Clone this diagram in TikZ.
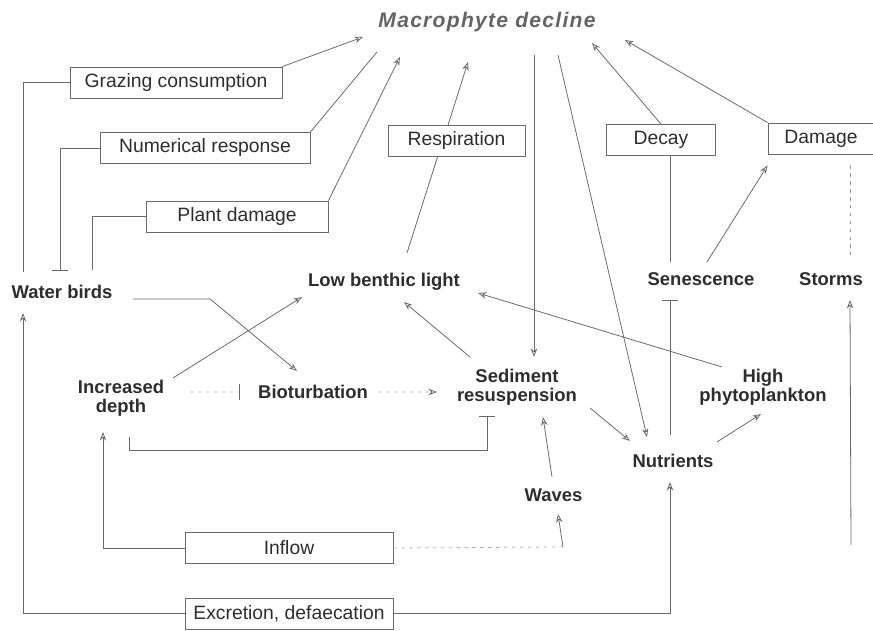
\documentclass[tikz,border=0pt]{standalone}
\usepackage{fontspec}
\setmainfont{Liberation Sans}
\usetikzlibrary{arrows.meta}
\definecolor{inkgrey}{RGB}{45,45,45}
\definecolor{linegrey}{RGB}{105,105,105}
\definecolor{titlegrey}{RGB}{100,100,100}

\begin{document}
\begin{tikzpicture}[
    x=0.02cm,
    y=-0.02cm,
    factor/.style={
        draw=linegrey,
        line width=0.5pt,
        minimum height=0.62cm,
        inner sep=2pt,
        text=inkgrey,
        font=\fontsize{11}{13}\selectfont
    },
    driver/.style={
        inner sep=0pt,
        align=center,
        text=inkgrey,
        font=\fontsize{10.5}{11}\selectfont\bfseries
    },
    wire/.style={draw=linegrey, line width=0.45pt},
    edge/.style={wire, -{Stealth[open, length=1.7mm, width=1.3mm]}},
    inhibit/.style={wire, -{Bar[width=3.2mm, line width=0.8pt]}},
    faint/.style={draw=black!30, line width=0.45pt, dash pattern=on 2pt off 2.5pt}
]
\useasboundingbox (0,0) rectangle (873,631);

% === Response ===
\node[inner sep=0pt, text=titlegrey,
      font=\fontsize{12}{14}\selectfont\bfseries\itshape\addfontfeatures{LetterSpace=6}]
      (decline) at (487,22) {Macrophyte decline};

% === Mechanisms (boxed) ===
\node[factor, minimum width=4.24cm] (graze) at (176,82.5) {Grazing consumption};
\node[factor, minimum width=4.2cm] (numer) at (205,148) {Numerical response};
\node[factor, minimum width=3.64cm] (plant) at (237,216.5) {Plant damage};
\node[factor, minimum width=2.74cm] (resp) at (456.5,141) {Respiration};
\node[factor, minimum width=2.18cm] (decay) at (661,140) {Decay};
\node[factor, minimum width=2.12cm] (damage) at (821,138.5) {Damage};
\node[factor, minimum width=4.16cm] (inflow) at (289,548) {Inflow};
\node[factor, minimum width=4.16cm] (excr) at (289,613.5) {Excretion, defaecation};

% === Drivers ===
\node[driver] (birds) at (62,291.5) {Water birds};
\node[driver] (light) at (384,282) {Low benthic light};
\node[driver] (senes) at (701,279) {Senescence};
\node[driver] (storms) at (831,279) {Storms};
\node[driver] (incr) at (121,398) {Increased\\depth};
\node[driver] (bio) at (313,391.5) {Bioturbation};
\node[driver] (sed) at (517,387) {Sediment\\resuspension};
\node[driver] (phyto) at (763,387) {High\\phytoplankton};
\node[driver] (nutri) at (673,460.5) {Nutrients};
\node[driver] (waves) at (553.5,495) {Waves};

\coordinate (wavesrc) at (563,547);
\coordinate (stormsrc) at (851,545);

% === Water birds ===
\draw[wire] ([shift={(-39,-19.5)}]birds.center) |- (graze.west);
\draw[edge] (graze.north east) -- ([shift={(-124,15)}]decline.center);
\draw[inhibit] (numer.west) -| ([shift={(-2,-20.5)}]birds.center);
\draw[wire] (numer.north east) -- ([shift={(-110,30)}]decline.center);
\draw[wire] ([shift={(30,-21.5)}]birds.center) |- (plant.west);
\draw[edge] (plant.north east) -- ([shift={(-87,35)}]decline.center);
\draw[edge] (excr.west) -| ([shift={(-39,21.5)}]birds.center);
\draw[edge] ([shift={(71,7.5)}]birds.center) -- ++(77,0) -- ([shift={(-16,-20.5)}]bio.center);

% === Light ===
\draw[wire] ([shift={(23,-29)}]light.center) -- ([shift={(-19,0)}]resp.south);
\draw[edge] ([shift={(-8.5,0)}]resp.north) -- ([shift={(-19,40)}]decline.center);
\draw[edge] ([shift={(52,-20)}]incr.center) -- ([shift={(-82,15)}]light.center);
\draw[edge] ([shift={(-47,-30)}]sed.center) -- ([shift={(20,20)}]light.center);
\draw[edge] ([shift={(-41,-20)}]phyto.center) -- ([shift={(94,11)}]light.center);

% === Sediment ===
\draw[faint, -{Bar[width=3.2mm, color=linegrey]}] ([shift={(69,-6)}]incr.center) -- ([shift={(-73,0.5)}]bio.center);
\draw[faint, -{Stealth[open, length=1.7mm, width=1.3mm, color=linegrey]}] ([shift={(65,0.5)}]bio.center) -- ([shift={(-80,5)}]sed.center);
\draw[inhibit] ([shift={(8,39)}]incr.center) -- ++(0,13) -| ([shift={(-30,29)}]sed.center);
\draw[edge] ([shift={(47,33)}]decline.center) -- ([shift={(17,-30)}]sed.center);
\draw[edge] ([shift={(-1.5,-18)}]waves.center) -- ([shift={(26,30)}]sed.center);
\draw[faint] (inflow.east) -- (wavesrc);
\draw[edge] (wavesrc) -- ([shift={(4.5,19)}]waves.center);
\draw[edge] (inflow.west) -| ([shift={(-18,34)}]incr.center);

% === Nutrients ===
\draw[edge] ([shift={(71,33)}]decline.center) -- ([shift={(-26,-23.5)}]nutri.center);
\draw[edge] ([shift={(73,21)}]sed.center) -- ([shift={(-43,-19.5)}]nutri.center);
\draw[edge] (excr.east) -| ([shift={(-3,21.5)}]nutri.center);
\draw[edge] ([shift={(44,-18.5)}]nutri.center) -- ([shift={(-2,27)}]phyto.center);
\draw[inhibit] ([shift={(-3,-25.5)}]nutri.center) -- ([shift={(-31,21)}]senes.center);

% === Senescence and storms ===
\draw[wire] ([shift={(9,0)}]decay.south) -- ([shift={(-31,-17)}]senes.center);
\draw[edge] (decay.north) -- ([shift={(105,21)}]decline.center);
\draw[edge] ([shift={(6,-17)}]senes.center) -- ([shift={(0,11)}]damage.south west);
\draw[edge] (damage.north west) -- ([shift={(138,18)}]decline.center);
\draw[faint, draw=linegrey!70] ([shift={(29,11)}]damage.south) -- ([shift={(19,-24)}]storms.center);
\draw[edge] (stormsrc) -- ([shift={(19,21)}]storms.center);

\end{tikzpicture}
\end{document}
